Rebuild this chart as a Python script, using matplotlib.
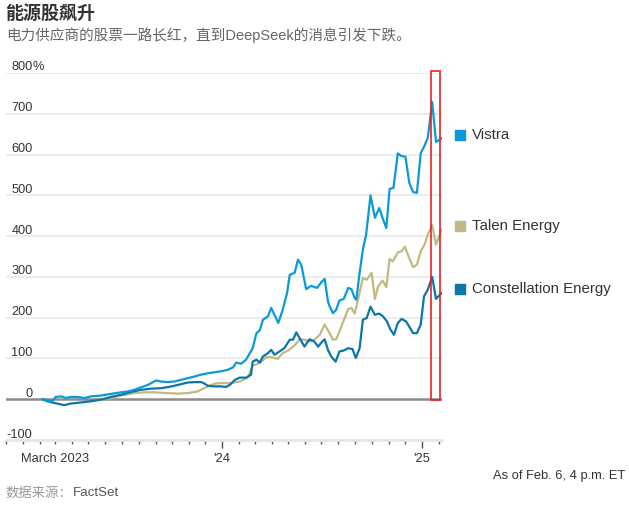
import matplotlib
matplotlib.use('Agg')
import matplotlib.pyplot as plt
import matplotlib.dates as mdates
import matplotlib.transforms as mtransforms
from matplotlib.patches import Rectangle
import pandas as pd

# data: days since 2023-02-06, cumulative change in %
start = pd.Timestamp('2023-02-06')

vistra_days = [0, 9, 18, 24, 34, 43, 52, 64, 76, 89, 107, 125, 144, 156, 168, 180, 193, 208, 217, 229,
               242, 254, 266, 278, 291, 303, 315, 327, 339, 349, 355, 364, 373, 385, 392, 398, 404, 413,
               419, 425, 432, 440, 448, 453, 462, 468, 474, 483, 492, 503, 511, 517, 523, 526, 532, 538,
               544, 552, 560, 566, 572, 575, 581, 587, 593, 601, 609, 617, 624, 630, 636, 643, 651, 658,
               665, 672, 679, 686, 693, 700, 706, 714, 721, 731]
vistra_vals = [0, -3, -5, 5.6, 7, 3, 5.6, 5.6, 3, 7, 9, 13, 17, 19, 23, 29, 35, 46, 43.5, 42,
               43.5, 47.6, 51.6, 55.6, 60.5, 63.7, 66, 68.5, 72, 78, 90, 87, 97, 125, 162, 169, 195, 203,
               224, 207, 187, 219, 260, 305, 310, 342, 330, 270, 278, 273, 287, 295, 240, 228, 211, 219,
               242, 246, 273, 270, 248, 244, 310, 367, 404, 500, 445, 469, 441, 420, 516, 518, 603, 596,
               595, 531, 508, 506, 603, 622, 641, 729, 631, 639]

talen_days = [104, 125, 144, 168, 186, 205, 229, 248, 266, 284, 293, 303, 315, 327, 343, 361, 376, 385,
              394, 401, 410, 419, 431, 440, 450, 459, 466, 471, 480, 489, 498, 508, 517, 526, 532, 538,
              544, 550, 560, 566, 572, 578, 587, 594, 603, 609, 615, 623, 630, 636, 642, 651, 658, 664,
              672, 679, 686, 693, 700, 706, 714, 721, 731]
talen_vals = [0, 2.4, 9, 15, 17, 17, 15, 13.7, 15, 19, 25, 31.5, 38, 39.5, 39.3, 43.3, 53, 82,
              87, 92, 103, 103, 99, 113, 119, 129, 138, 147, 146, 141.5, 146, 158, 183, 162, 146, 147,
              166, 187, 221, 224, 210, 244, 297, 293, 310, 246, 277, 291, 275, 344, 338, 360, 363, 374,
              346, 324, 330, 363, 379, 404, 427, 379, 416]

const_days = [0, 9, 21, 40, 52, 64, 76, 89, 101, 113, 125, 144, 162, 180, 199, 217, 235, 254, 266, 278,
              291, 297, 303, 315, 327, 336, 343, 352, 361, 373, 382, 385, 392, 398, 404, 413, 419, 425,
              434, 443, 453, 459, 465, 471, 480, 489, 498, 505, 511, 517, 523, 529, 537, 544, 552, 560,
              568, 574, 581, 587, 594, 601, 609, 617, 624, 631, 637, 644, 651, 658, 666, 672, 679, 686,
              693, 699, 706, 714, 721, 731]
const_vals = [0, -5, -9, -14.5, -10.5, -9, -7, -5, -2.4, 0.8, 5.6, 11, 17.7, 23, 26, 27, 31, 37, 41, 42,
              42, 38, 33, 31.5, 31.5, 30, 35, 47, 53, 53, 60, 92, 97, 90, 105, 113, 121, 109,
              117, 125, 146, 146, 164, 150, 129, 147, 141.5, 129, 139, 147, 121, 105, 92, 117, 119.5, 125,
              123, 101, 125, 195, 199, 227, 207, 210, 203, 191, 172, 158, 187, 197, 191, 178, 162, 162,
              183, 252, 269, 300, 246, 260]

names = ['Talen Energy', 'Constellation Energy', 'Vistra']
colors = ['#c2b982', '#0b76a8', '#0a9ad8']
series_days = [talen_days, const_days, vistra_days]
series_vals = [talen_vals, const_vals, vistra_vals]

ytick_vals = [-100, 0, 100, 200, 300, 400, 500, 600, 700, 800]
xtick_dates = ['2023-03-01', '2024-01-01', '2025-01-01']
xtick_labels = ['March 2023', "'24", "'25"]

W, H = 629, 505
fig = plt.figure(figsize=(W / 100, H / 100), dpi=100)
ax = fig.add_axes([6 / W, 1 - 440 / H, 436 / W, 367 / H])

txt = '#333333'
fam = ['Liberation Sans', 'Noto Sans CJK SC']

for v in ytick_vals[2:]:
    ax.axhline(v, color='#ebebeb', lw=1.3, zorder=0)
ax.axhline(0, color='#8c8c8c', lw=1.8, zorder=1)

for name, c, d, v in zip(names, colors, series_days, series_vals):
    dates = start + pd.to_timedelta(d, unit='D')
    ax.plot(dates, v, color=c, lw=1.6, zorder=3, solid_joinstyle='round')

ax.set_xlim(start - pd.Timedelta(days=67), start + pd.Timedelta(days=732))
ax.set_ylim(-100, 800)

for s in ['top', 'right', 'left']:
    ax.spines[s].set_visible(False)
ax.spines['bottom'].set_color('#e6e6e6')
ax.spines['bottom'].set_linewidth(2)

ax.set_yticks([])
ax.xaxis.set_minor_locator(mdates.MonthLocator())
ax.set_xticks(pd.to_datetime(xtick_dates))
ax.set_xticklabels(xtick_labels, fontsize=9.3, color=txt, family=fam)
ax.tick_params(axis='x', which='major', length=6, width=1, color='#555555', pad=3)
ax.tick_params(axis='x', which='minor', length=3, width=1, color='#555555')
ax.xaxis.get_major_ticks()[0].tick1line.set_markersize(3)

# y labels sitting above gridlines
ytr = mtransforms.offset_copy(ax.get_yaxis_transform(), fig=fig, x=0, y=2.5, units='dots')
xr = 26.5 / 436
for v in ytick_vals:
    ax.text(xr, v, str(v), transform=ytr, ha='right', va='baseline', fontsize=9.2,
            color=txt, family=fam)
ax.text(xr, 800, '%', transform=ytr, ha='left', va='baseline', fontsize=9.2, color=txt, family=fam)

# end labels
ltr = mtransforms.offset_copy(ax.get_yaxis_transform(), fig=fig, x=0, y=4, units='dots')
for name, c, v in zip(names, colors, series_vals):
    ax.scatter([(460 - 6) / 436], [v[-1]], marker='s', s=60, color=c, transform=ltr,
               clip_on=False, zorder=4)
    ax.text((472 - 6) / 436, v[-1], name, transform=ltr, ha='left', va='center',
            fontsize=10.8, color=txt, family=fam, clip_on=False)

# DeepSeek window
x0 = mdates.date2num(start + pd.Timedelta(days=711))
x1 = mdates.date2num(start + pd.Timedelta(days=729))
ax.add_patch(Rectangle((x0, -1), x1 - x0, 805, fill=False, edgecolor='#e8202a', lw=1.2,
                       clip_on=False, zorder=5))

fig.text(5 / W, 1 - 14 / H, '能源股飙升', fontsize=13, fontweight='bold', color=txt,
         family=['Noto Sans CJK SC'], va='center', ha='left')
fig.text(6 / W, 1 - 35 / H, '电力供应商的股票一路长红，直到DeepSeek的消息引发下跌。', fontsize=10.5,
         color='#666666', family=fam, va='center', ha='left')
fig.text(625 / W, 1 - 476 / H, 'As of Feb. 6, 4 p.m. ET', fontsize=9.3, color=txt, family=fam,
         va='center', ha='right')
src = fig.text(6 / W, 1 - 493 / H, '数据来源：', fontsize=9.6, color='#999999', family=fam,
               va='center', ha='left')
ax.annotate('FactSet', xy=(1, 0.5), xycoords=src, fontsize=9.6, color='#555555', family=fam,
            va='center', ha='left', annotation_clip=False)

fig.savefig('out.png', dpi=100)
